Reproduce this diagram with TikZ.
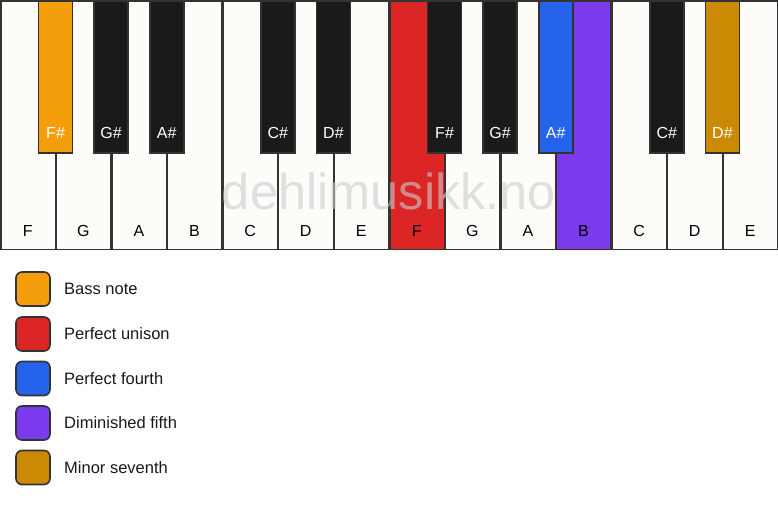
\documentclass[tikz,border=0pt]{standalone}
\usepackage{fontspec}
\setmainfont{Liberation Sans}
\definecolor{ivory}{HTML}{FDFCF8}
\definecolor{keyline}{HTML}{333333}
\definecolor{blackkey}{HTML}{1A1A1A}
\definecolor{cbass}{HTML}{F59E0B}
\definecolor{cunison}{HTML}{DC2626}
\definecolor{cfourth}{HTML}{2563EB}
\definecolor{cfifth}{HTML}{7C3AED}
\definecolor{cseventh}{HTML}{CA8A04}
\definecolor{wmark}{HTML}{CCCCCC}
\begin{document}
\begin{tikzpicture}[x=1pt,y=-1pt,
  whitekey/.style={draw=keyline,line width=1.6pt,fill=ivory},
  blackkeybox/.style={draw=keyline,line width=1.6pt,fill=blackkey},
  wlabel/.style={font=\fontsize{16}{16}\selectfont,text=black,anchor=base},
  blabel/.style={font=\fontsize{16}{16}\selectfont,text=white,anchor=base},
  legbox/.style={draw=keyline,line width=1.6pt,rounded corners=6pt,minimum width=34pt,minimum height=34pt,inner sep=0pt},
  legtext/.style={font=\fontsize{16.5}{16.5}\selectfont,text=black!90,anchor=west,inner sep=0pt}]
\useasboundingbox (0,0) rectangle (778,506);
\fill[white] (0,0) rectangle (778,506);
\def\kw{55.571}
% white keys
\foreach \n/\i/\c in {F/0/ivory,G/1/ivory,A/2/ivory,B/3/ivory,C/4/ivory,D/5/ivory,E/6/ivory,F/7/cunison,G/8/ivory,A/9/ivory,B/10/cfifth,C/11/ivory,D/12/ivory,E/13/ivory}{
  \draw[whitekey,fill=\c] ({\i*\kw+0.8},0.8) rectangle ({(\i+1)*\kw},249.5);
  \node[wlabel] (w\i) at ({(\i+0.5)*\kw},236.5) {\n};
}
% watermark
\node[font=\fontsize{50.5}{50.5}\selectfont,text=wmark,text opacity=0.6,anchor=base] (wm) at (389,209) {dehlimusikk.no};
% black keys
\foreach \n/\b/\c in {F\#/1/cbass,G\#/2/blackkey,A\#/3/blackkey,C\#/5/blackkey,D\#/6/blackkey,F\#/8/blackkey,G\#/9/blackkey,A\#/10/cfourth,C\#/12/blackkey,D\#/13/cseventh}{
  \draw[blackkeybox,fill=\c] ({\b*\kw-17},0.8) rectangle ({\b*\kw+17},153);
  \node[blabel] (b\b) at ({\b*\kw},138.5) {\n};
}
% legend
\foreach \t/\c/\y [count=\k] in {Bass note/cbass/289,Perfect unison/cunison/334,Perfect fourth/cfourth/378.5,Diminished fifth/cfifth/423,Minor seventh/cseventh/467.5}{
  \node[legbox,fill=\c] (lb\k) at (33,\y) {};
  \node[legtext] (lt\k) at (64,\y) {\t};
}
\end{tikzpicture}
\end{document}
